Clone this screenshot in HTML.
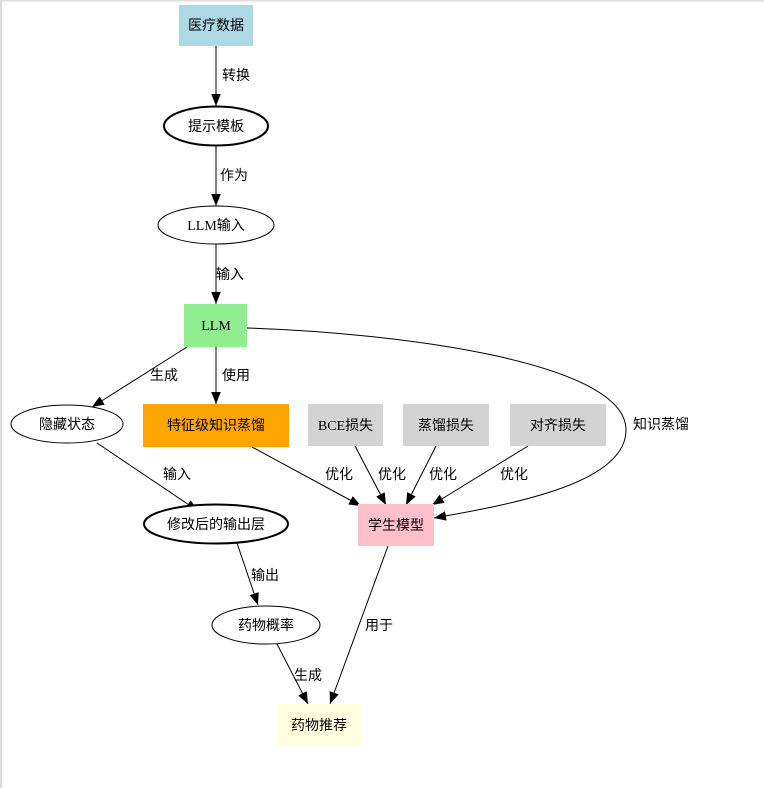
<!DOCTYPE html>
<html><head><meta charset="utf-8"><style>
html,body{margin:0;padding:0;background:#fff;}
svg{display:block;}
text{font-family:"Liberation Serif","Noto Sans CJK SC",sans-serif;font-size:14px;fill:#000;}
</style></head><body>
<svg width="764" height="788" viewBox="0 0 764 788" xmlns="http://www.w3.org/2000/svg">
<defs>
<marker id="a" markerUnits="userSpaceOnUse" markerWidth="12" markerHeight="12" viewBox="0 0 10 10" refX="10" refY="5" orient="auto">
<path d="M0,1 L10,5 L0,9 Z" fill="#000"/>
</marker>
</defs>
<rect x="0" y="0" width="764" height="788" fill="#fff"/>
<rect x="0" y="0" width="764" height="1.5" fill="#ddd"/>
<rect x="0" y="0" width="2" height="788" fill="#ddd"/>
<g stroke="#000" stroke-width="1" fill="none" marker-end="url(#a)">
<line x1="216" y1="46" x2="216" y2="106"/>
<line x1="216" y1="146" x2="216" y2="206"/>
<line x1="216" y1="244" x2="216" y2="304"/>
<line x1="187" y1="347" x2="92" y2="407"/>
<line x1="216" y1="347" x2="216" y2="404"/>
<path d="M247,328 C400,333 626,362 626,430 C626,482 520,503 434,518"/>
<line x1="97" y1="443" x2="198" y2="511"/>
<line x1="252" y1="447" x2="361" y2="506"/>
<line x1="355" y1="446" x2="386" y2="505"/>
<line x1="436" y1="446" x2="406" y2="505"/>
<line x1="528" y1="446" x2="432" y2="505"/>
<line x1="237" y1="543" x2="258" y2="605"/>
<line x1="277" y1="644" x2="308" y2="704"/>
<line x1="388" y1="546" x2="330" y2="704"/>
</g>
<rect x="179" y="5" width="74" height="41" fill="#add8e6"/>
<text x="216" y="30" text-anchor="middle">医疗数据</text>
<ellipse cx="216" cy="126" rx="52" ry="19.5" fill="#fff" stroke="#000" stroke-width="2"/>
<text x="216" y="131" text-anchor="middle">提示模板</text>
<ellipse cx="216" cy="225" rx="58" ry="19" fill="#fff" stroke="#000"/>
<text x="216" y="230" text-anchor="middle">LLM输入</text>
<rect x="184" y="304" width="63" height="43" fill="#90ee90"/>
<text x="216" y="330" text-anchor="middle">LLM</text>
<ellipse cx="67" cy="424" rx="56" ry="19" fill="#fff" stroke="#000"/>
<text x="67" y="429" text-anchor="middle">隐藏状态</text>
<rect x="143" y="404" width="146" height="43" fill="#ffa500"/>
<text x="216" y="430" text-anchor="middle">特征级知识蒸馏</text>
<rect x="308" y="404" width="75" height="42" fill="#d3d3d3"/>
<text x="345.5" y="430" text-anchor="middle">BCE损失</text>
<rect x="403" y="404" width="86" height="42" fill="#d3d3d3"/>
<text x="446" y="430" text-anchor="middle">蒸馏损失</text>
<rect x="510" y="404" width="96" height="42" fill="#d3d3d3"/>
<text x="558" y="430" text-anchor="middle">对齐损失</text>
<ellipse cx="216" cy="524" rx="72" ry="19.5" fill="#fff" stroke="#000" stroke-width="2"/>
<text x="216" y="529" text-anchor="middle">修改后的输出层</text>
<rect x="358" y="504" width="76" height="42" fill="#ffc0cb"/>
<text x="396" y="530" text-anchor="middle">学生模型</text>
<ellipse cx="266" cy="625" rx="54" ry="19" fill="#fff" stroke="#000"/>
<text x="266" y="630" text-anchor="middle">药物概率</text>
<rect x="277" y="704" width="84" height="41" fill="#ffffe0"/>
<text x="319" y="730" text-anchor="middle">药物推荐</text>
<text x="222" y="80">转换</text>
<text x="220" y="180">作为</text>
<text x="216" y="279">输入</text>
<text x="150" y="380">生成</text>
<text x="222" y="380">使用</text>
<text x="633" y="429">知识蒸馏</text>
<text x="163" y="479">输入</text>
<text x="325" y="479">优化</text>
<text x="378" y="479">优化</text>
<text x="429" y="479">优化</text>
<text x="500" y="479">优化</text>
<text x="251" y="580">输出</text>
<text x="294" y="680">生成</text>
<text x="365" y="630">用于</text>
</svg>
</body></html>
